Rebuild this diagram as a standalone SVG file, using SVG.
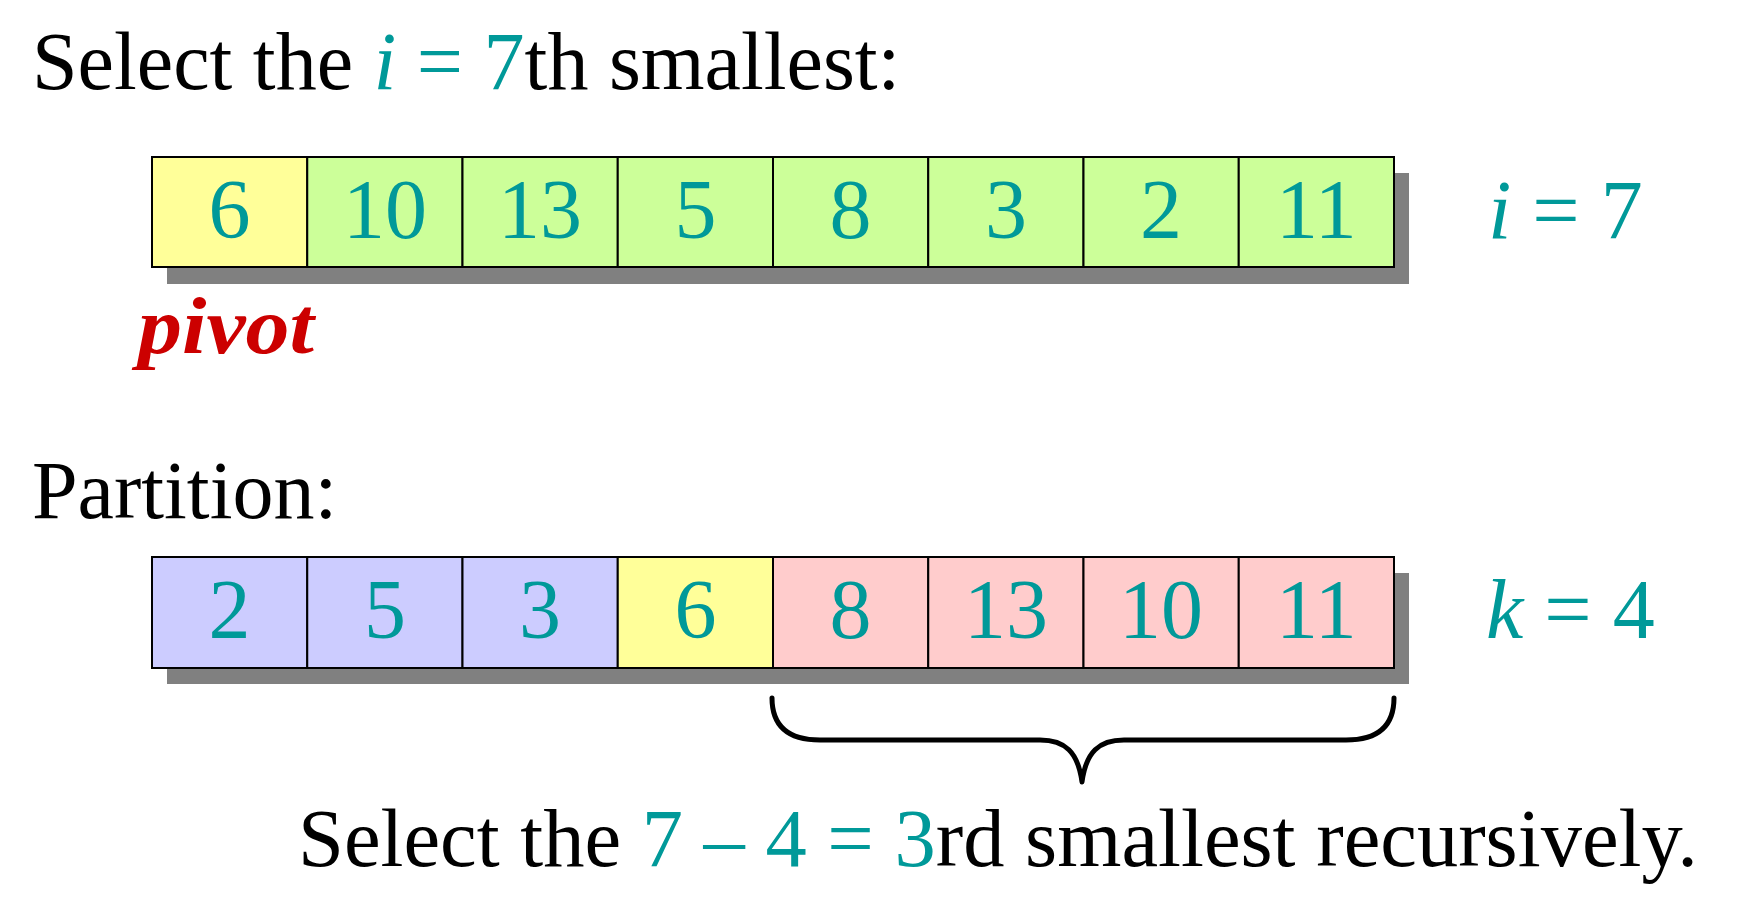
<svg xmlns="http://www.w3.org/2000/svg" width="1744" height="912" viewBox="0 0 1744 912">
<style>
text{font-family:"Liberation Serif","Times New Roman",serif;}
.t{font-size:82px;fill:#000;}
.c{fill:#009999;}
.it{font-style:italic;}
.num{font-size:84px;fill:#009999;text-anchor:middle;}
.cell{stroke:#000;stroke-width:2;}
.y{fill:#FFFF99;}.g{fill:#CCFF99;}.b{fill:#CCCCFF;}.p{fill:#FFCCCC;}
.sh{fill:#808080;}
</style>
<rect width="1744" height="912" fill="#fff"/>
<text id="title1" class="t" x="32" y="89">Select the <tspan class="c it">i</tspan><tspan class="c"> = 7</tspan>th smallest:</text>

<g id="row1">
<rect class="sh" x="167" y="173" width="1242" height="111"/>
<g id="r1c1"><rect class="cell y" x="152" y="157" width="155.25" height="110"/><text class="num" x="229.6" y="238">6</text></g>
<g id="r1c2"><rect class="cell g" x="307.25" y="157" width="155.25" height="110"/><text class="num" x="384.9" y="238">10</text></g>
<g id="r1c3"><rect class="cell g" x="462.5" y="157" width="155.25" height="110"/><text class="num" x="540.1" y="238">13</text></g>
<g id="r1c4"><rect class="cell g" x="617.75" y="157" width="155.25" height="110"/><text class="num" x="695.4" y="238">5</text></g>
<g id="r1c5"><rect class="cell g" x="773" y="157" width="155.25" height="110"/><text class="num" x="850.6" y="238">8</text></g>
<g id="r1c6"><rect class="cell g" x="928.25" y="157" width="155.25" height="110"/><text class="num" x="1005.9" y="238">3</text></g>
<g id="r1c7"><rect class="cell g" x="1083.5" y="157" width="155.25" height="110"/><text class="num" x="1161.1" y="238">2</text></g>
<g id="r1c8"><rect class="cell g" x="1238.75" y="157" width="155.25" height="110"/><text class="num" x="1316.4" y="238">11</text></g>
</g>
<text id="ilabel" x="1488" y="239" style="font-size:84px" class="c"><tspan class="it">i</tspan> = 7</text>
<text id="pivot" x="138" y="353" textLength="176" lengthAdjust="spacingAndGlyphs" style="font-size:80px;font-weight:bold;font-style:italic;fill:#CC0000">pivot</text>

<text id="title2" class="t" x="32" y="518">Partition:</text>

<g id="row2">
<rect class="sh" x="167" y="573" width="1242" height="111"/>
<g id="r2c1"><rect class="cell b" x="152" y="557" width="155.25" height="111"/><text class="num" x="229.6" y="638">2</text></g>
<g id="r2c2"><rect class="cell b" x="307.25" y="557" width="155.25" height="111"/><text class="num" x="384.9" y="638">5</text></g>
<g id="r2c3"><rect class="cell b" x="462.5" y="557" width="155.25" height="111"/><text class="num" x="540.1" y="638">3</text></g>
<g id="r2c4"><rect class="cell y" x="617.75" y="557" width="155.25" height="111"/><text class="num" x="695.4" y="638">6</text></g>
<g id="r2c5"><rect class="cell p" x="773" y="557" width="155.25" height="111"/><text class="num" x="850.6" y="638">8</text></g>
<g id="r2c6"><rect class="cell p" x="928.25" y="557" width="155.25" height="111"/><text class="num" x="1005.9" y="638">13</text></g>
<g id="r2c7"><rect class="cell p" x="1083.5" y="557" width="155.25" height="111"/><text class="num" x="1161.1" y="638">10</text></g>
<g id="r2c8"><rect class="cell p" x="1238.75" y="557" width="155.25" height="111"/><text class="num" x="1316.4" y="638">11</text></g>
</g>
<text id="klabel" x="1486" y="638" style="font-size:84px" class="c"><tspan class="it">k</tspan> = 4</text>

<g id="connectors">
<path id="brace" d="M772,698 C772,728 790,740 820,740 L1040,740 C1065,740 1078,752 1082,782 C1086,752 1099,740 1124,740 L1346,740 C1376,740 1394,728 1394,698" fill="none" stroke="#000" stroke-width="5" stroke-linecap="round" stroke-linejoin="round"/>
</g>

<text id="title3" class="t" x="298" y="866" textLength="1400" lengthAdjust="spacingAndGlyphs" style="font-size:83px">Select the <tspan class="c">7 – 4 = 3</tspan>rd smallest recursively.</text>
</svg>
